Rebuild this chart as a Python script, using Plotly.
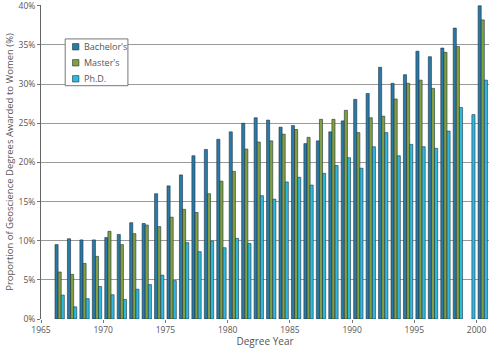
import plotly.graph_objects as go

years = list(range(1966, 2001))
bachelors = [9.5, 10.25, 10.1, 10.1, 10.4, 10.8, 12.3, 12.2, 16.0, 17.0,
             18.4, 20.85, 21.65, 22.95, 23.9, 25.0, 25.7, 25.4, 24.5, 24.7,
             22.4, 22.75, 23.9, 25.3, 28.05, 28.8, 32.15, 30.1, 31.2, 34.2,
             33.5, 34.6, 37.15, None, 40.0]
masters = [6.0, 5.7, 7.1, 8.0, 11.2, 9.5, 10.9, 12.0, 11.8, 13.0,
           14.0, 13.6, 16.0, 17.6, 18.85, 21.7, 22.6, 22.75, 23.6, 24.2,
           23.2, 25.5, 25.5, 26.65, 23.8, 25.7, 25.9, 28.1, 30.1, 30.5,
           29.45, 34.05, 34.8, None, 38.2]
phd = [3.05, 1.55, 2.6, 4.15, 3.1, 2.5, 3.8, 4.4, 5.6, 4.9,
       9.75, 8.6, 9.95, 9.1, 10.3, 9.65, 15.75, 15.3, 17.5, 18.1,
       17.1, 18.6, 19.6, 20.6, 19.25, 22.0, 23.8, 20.85, 22.3, 22.0,
       21.8, 24.0, 27.0, 26.1, 30.5]

series_names = ["Bachelor's", "Master's", "Ph.D."]
series_values = [bachelors, masters, phd]
colors = ["#2a7aa8", "#82a040", "#2fb9e0"]
x_ticks = list(range(1965, 2001, 5))
y_ticks = list(range(0, 41, 5))

font_family = "Open Sans, Lato, sans-serif"
text_color = "#555555"
edge_color = "#1d3440"

fig = go.Figure()
bar_w = 0.25
for i, (name, vals, col) in enumerate(zip(series_names, series_values, colors)):
    fig.add_trace(go.Bar(
        x=years, y=vals, name=name, showlegend=False,
        width=bar_w, offset=0.125 + i * bar_w,
        marker=dict(color=col, line=dict(color=edge_color, width=0.6)),
    ))

# custom compact legend (box, swatches, labels) in paper coordinates
leg_x0, leg_x1, leg_y0, leg_y1 = 0.054, 0.194, 0.743, 0.892
item_y = [0.867, 0.816, 0.765]
swatch_x = 0.0775
label_x = 0.091
shapes = [dict(type="rect", xref="paper", yref="paper",
               x0=leg_x0, x1=leg_x1, y0=leg_y0, y1=leg_y1,
               line=dict(color="#777777", width=1), fillcolor="white",
               layer="above")]
annotations = []
for name, col, yy in zip(series_names, colors, item_y):
    shapes.append(dict(type="rect", xref="paper", yref="paper",
                       xsizemode="pixel", ysizemode="pixel",
                       xanchor=swatch_x, yanchor=yy,
                       x0=-3.2, x1=3.2, y0=-3.2, y1=3.2,
                       fillcolor=col, line=dict(color=edge_color, width=0.6),
                       layer="above"))
    annotations.append(dict(xref="paper", yref="paper", x=label_x, y=yy,
                            xanchor="left", yanchor="middle", showarrow=False,
                            text=name, font=dict(size=9, color=text_color)))

fig.update_layout(
    width=489, height=348,
    margin=dict(l=41, r=0, t=3, b=29),
    barmode="overlay",
    showlegend=False,
    plot_bgcolor="white", paper_bgcolor="white",
    font=dict(family=font_family, size=9, color=text_color),
    shapes=shapes, annotations=annotations,
    xaxis=dict(range=[1965, 2001], tickvals=x_ticks,
               ticktext=[str(t) for t in x_ticks],
               ticks="outside", ticklen=3, tickcolor="#777777",
               showgrid=False, showline=False, zeroline=False,
               tickfont=dict(size=8.5, color=text_color),
               title=dict(text="Degree Year", standoff=6,
                          font=dict(size=10, color=text_color))),
    yaxis=dict(range=[0, 40.1], tickvals=y_ticks,
               ticktext=[f"{t}%" for t in y_ticks],
               ticklabeloverflow="allow",
               ticks="outside", ticklen=3, tickcolor="#777777",
               showgrid=True, gridcolor="#9a9a9a", gridwidth=1,
               showline=True, linecolor="#666666", linewidth=1,
               zeroline=False,
               tickfont=dict(size=8.5, color=text_color),
               title=dict(text="Proportion of Geoscience Degrees Awarded to Women (%)",
                          standoff=3, font=dict(size=9.5, color=text_color))),
)

fig.write_html("out.html")
